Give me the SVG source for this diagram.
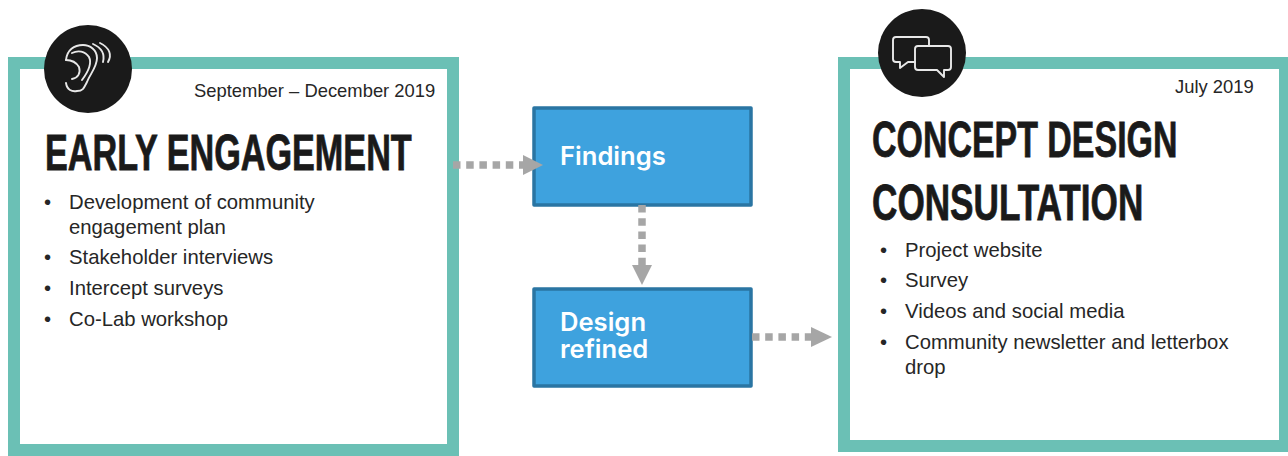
<svg xmlns="http://www.w3.org/2000/svg" width="1288" height="456" viewBox="0 0 1288 456">
<style>
.frame{fill:#fff;stroke:#6bc0b5;stroke-width:12}
.disc{fill:#1a1a1a}
.ico{fill:none;stroke:#e8e8e8;stroke-width:1.9;stroke-linecap:round;stroke-linejoin:round}
.h{font-family:"Liberation Sans",Arial,sans-serif;font-weight:700;font-size:50px;fill:#1a1a1a;stroke:#1a1a1a;stroke-width:.8}
.b{font-family:"Liberation Sans",Arial,sans-serif;font-size:20.3px;fill:#262626}
.d{font-family:"Liberation Sans",Arial,sans-serif;font-size:18.4px;fill:#262626}
.box{fill:#3ea2de;stroke:#2a75a3;stroke-width:3.5;stroke-linejoin:round}
.t{font-family:Inter,"Noto Sans",sans-serif;font-weight:600;font-size:25.6px;fill:#fff}
.c{fill:none;stroke:#a6a6a6;stroke-width:7.5;stroke-dasharray:7.5 5.7}
.a{fill:#a6a6a6}
</style>
<rect width="1288" height="456" fill="#fff"/>
<g id="early-engagement">
<rect class="frame" x="14" y="63" width="439" height="387"/>
<circle class="disc" cx="88" cy="69" r="44"/>
<g class="ico">
<path d="M66 83C67 90 72 92 77 91C83 91 84 88 87 82C90 74 97 67 97 58C97 50 90 45 83 45C74 45 67 50 66 60"/>
<path d="M66 60C72 60 76 62 79 67C81 73 78 78 72 79"/>
<path d="M72 53C78 50 85 51 89 57C92 63 88 72 82 80"/>
<path d="M93 44C102 48 105 54 103 62"/>
<path d="M100 43C110 48 112 55 108 62"/>
</g>
<text class="d" x="194" y="97">September – December 2019</text>
<text class="h" transform="translate(45 170) scale(.684 1)">EARLY ENGAGEMENT</text>
<text class="b" x="44" y="209">•</text><text class="b" x="69" y="209">Development of community</text>
<text class="b" x="69" y="234">engagement plan</text>
<text class="b" x="44" y="264">•</text><text class="b" x="69" y="264">Stakeholder interviews</text>
<text class="b" x="44" y="295">•</text><text class="b" x="69" y="295">Intercept surveys</text>
<text class="b" x="44" y="326">•</text><text class="b" x="69" y="326">Co-Lab workshop</text>
</g>
<g id="concept-design">
<rect class="frame" x="844" y="63" width="441" height="383"/>
<circle class="disc" cx="922" cy="53" r="44"/>
<g class="ico">
<path d="M929 46V40Q929 37 926 37H896Q893 37 893 40V59Q893 62 896 62H900V68L908 62H915"/>
<path d="M918 46H948Q951 46 951 49V67Q951 70 948 70H944V77L937 70H918Q915 70 915 67V49Q915 46 918 46Z"/>
</g>
<text class="d" x="1175" y="93">July 2019</text>
<text class="h" transform="translate(872 157) scale(.679 1)">CONCEPT DESIGN</text>
<text class="h" transform="translate(872 220) scale(.703 1)">CONSULTATION</text>
<text class="b" x="880" y="257">•</text><text class="b" x="905" y="257">Project website</text>
<text class="b" x="880" y="287">•</text><text class="b" x="905" y="287">Survey</text>
<text class="b" x="880" y="318">•</text><text class="b" x="905" y="318">Videos and social media</text>
<text class="b" x="880" y="349">•</text><text class="b" x="905" y="349">Community newsletter and letterbox</text>
<text class="b" x="905" y="374">drop</text>
</g>
<g id="findings">
<rect class="box" x="534" y="108" width="217" height="97"/>
<text class="t" x="560" y="165">Findings</text>
</g>
<g id="design-refined">
<rect class="box" x="534" y="289" width="217" height="97"/>
<text class="t"><tspan x="560" y="331">Design</tspan><tspan x="560" y="358">refined</tspan></text>
</g>
<g id="connectors">
<path class="c" d="M453 165H524"/><path class="a" d="M523 155L543 165L523 175Z"/>
<path class="c" d="M642 205V266"/><path class="a" d="M632 265H652L642 285Z"/>
<path class="c" d="M752 337H812"/><path class="a" d="M811 327L832 337L811 347Z"/>
</g>
</svg>
